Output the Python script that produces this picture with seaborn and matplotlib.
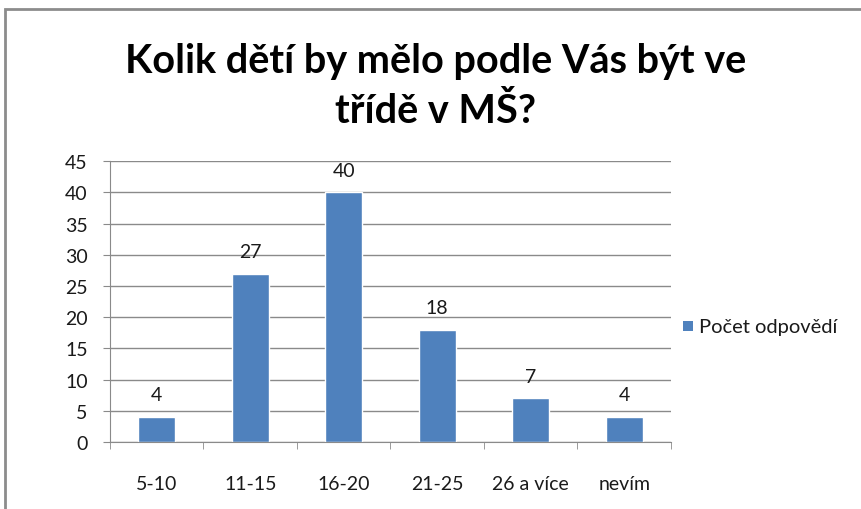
import seaborn as sns
import matplotlib.pyplot as plt
from matplotlib.patches import Rectangle
import pandas as pd

categories = ['5-10', '11-15', '16-20', '21-25', '26 a více', 'nevím']
counts = [4, 27, 40, 18, 7, 4]
series_name = 'Počet odpovědí'
title = 'Kolik dětí by mělo podle Vás být ve\ntřídě v MŠ?'

df = pd.DataFrame({'kat': categories, 'n': counts, 's': series_name})

sns.set_style('white')
plt.rcParams['font.family'] = ['Lato', 'DejaVu Sans']

fig = plt.figure(figsize=(8.62, 5.10), dpi=100)
ax = fig.add_axes([0.1276, 0.1314, 0.6508, 0.5506])

sns.barplot(data=df, x='kat', y='n', hue='s', palette=['#4F81BD'],
            saturation=1, width=0.4, ax=ax, legend=False)

for p, v in zip(ax.patches, counts):
    ax.text(p.get_x() + p.get_width() / 2, v + 2.2, str(v),
            ha='center', va='bottom', fontsize=14, color='#1a1a1a')

ax.set_ylim(0, 45)
ax.set_xlim(-0.5, len(categories) - 0.5)
ax.set_yticks(range(0, 46, 5))
ax.yaxis.grid(True, color='#8a8a8a', linewidth=1)
ax.set_axisbelow(True)
for s in ['top', 'right']:
    ax.spines[s].set_visible(False)
for s in ['left', 'bottom']:
    ax.spines[s].set_color('#8a8a8a')
ax.set_xlabel('')
ax.set_ylabel('')
ax.tick_params(axis='y', length=5, color='#8a8a8a', labelsize=14, pad=11,
               left=True)
ax.tick_params(axis='x', length=0, labelsize=14, pad=24)
ax.set_xticks([i - 0.5 for i in range(len(categories) + 1)], minor=True)
ax.tick_params(axis='x', which='minor', length=5, color='#8a8a8a', bottom=True)
for lbl in ax.get_xticklabels() + ax.get_yticklabels():
    lbl.set_color('#1a1a1a')

fig.text(0.505, 0.83, title, ha='center', va='center', fontsize=28.5,
         fontweight='bold', linespacing=1.42, color='#000000')

# legend
fig.patches.append(Rectangle((683 / 862, 1 - 332 / 510), 10 / 862, 10 / 510,
                             transform=fig.transFigure, facecolor='#4F81BD',
                             edgecolor='none'))
fig.text(699 / 862, 1 - 327 / 510, series_name, ha='left', va='center',
         fontsize=14.5, color='#1a1a1a')

# chart frame
fig.patches.append(Rectangle((5 / 862, -0.1), 1.1, 1 - 10 / 510 + 0.1,
                             transform=fig.transFigure, fill=False,
                             edgecolor='#8c8c8c', linewidth=2))

fig.savefig('out.png', dpi=100)
